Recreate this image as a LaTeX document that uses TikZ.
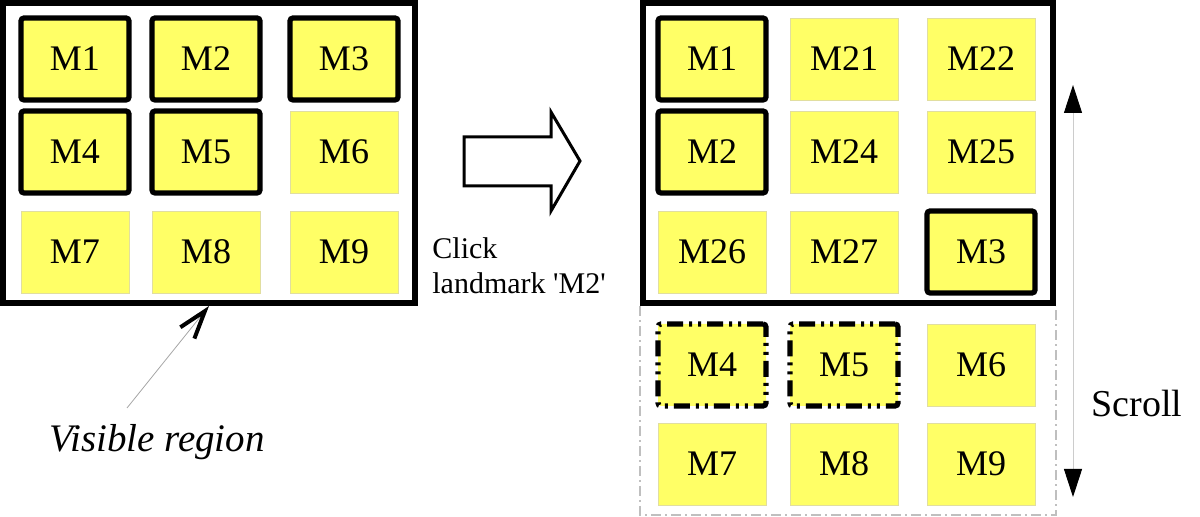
\documentclass[tikz,border=0pt]{standalone}
\usepackage{fontspec}
\setmainfont{Liberation Serif}
\usetikzlibrary{arrows.meta}

\definecolor{lmfill}{RGB}{255,255,102}
\definecolor{lmedge}{RGB}{225,222,160}

\tikzset{
  landmark/.style={draw=lmedge, line width=0.4pt, fill=lmfill,
    minimum width=54pt, minimum height=41pt, inner sep=0pt,
    font=\fontsize{18}{18}\selectfont},
  picked/.style={landmark, draw=black, line width=2.6pt, rounded corners=1.5pt},
  ghost/.style={picked, dash pattern=on 8pt off 3pt on 1.5pt off 3pt on 1.5pt off 3pt},
  viewframe/.style={draw=black, line width=3pt, minimum height=150pt, inner sep=0pt},
  listedge/.style={draw=black!25, line width=0.6pt, dash pattern=on 5pt off 2pt on 1pt off 2pt}
}

\begin{document}
\begin{tikzpicture}[x=0.5pt, y=-0.5pt]
    \useasboundingbox (0,0) rectangle (1200,517);

    % 1. The two visible regions
    \node[viewframe, minimum width=206pt] (lview) at (209,153) {};
    \node[viewframe, minimum width=205pt] (rview) at (848,153) {};
    % rest of the list, out of view
    \draw[listedge] (rview.south west) -- ++(0,209) -| (rview.south east);

    % 2. Landmarks before the click
    \foreach \txt/\x/\y/\sty in {M1/75/59/picked, M2/206/59/picked, M3/344/59/picked,
        M4/75/152/picked, M5/206/152/picked, M6/344/152/landmark,
        M7/75/252/landmark, M8/206/252/landmark, M9/344/252/landmark}
        \node[\sty] (l\txt) at (\x,\y) {\txt};

    % 3. Landmarks after the click
    \foreach \txt/\x/\y/\sty in {M1/712/59/picked, M21/844/59/landmark, M22/981/59/landmark,
        M2/712/152/picked, M24/844/152/landmark, M25/981/152/landmark,
        M26/712/252/landmark, M27/844/252/landmark, M3/981/252/picked,
        M4/712/365/ghost, M5/844/365/ghost, M6/981/365/landmark,
        M7/712/464/landmark, M8/844/464/landmark, M9/981/464/landmark}
        \node[\sty] (r\txt) at (\x,\y) {\txt};

    % 4. Block arrow and its note
    \draw[line width=1.5pt, line join=miter]
        (464,137) -- (551,137) -- (551,112) -- (580,161)
        -- (551,211) -- (551,186) -- (464,186) -- cycle;
    \node[anchor=north west, inner sep=0pt, align=left,
          font=\fontsize{15}{17.5}\selectfont] (clicknote) at (432,237)
        {Click\\landmark \textquotesingle M2\textquotesingle};

    % 5. Label for the visible region
    \node[inner sep=0pt, font=\fontsize{19.5}{20}\selectfont\itshape] (vislabel) at (157,442) {Visible region};
    \coordinate (visfoot) at (127,408);
    \draw[gray!70, line width=0.4pt,
          -{Straight Barb[length=14pt, width=9pt, line width=2pt, black]}]
        (visfoot) -- (lview.south);

    % 6. Scroll
    \coordinate (scrolltop) at (1073,85);
    \coordinate (scrollbot) at (1073,497);
    \draw[black!20, line width=0.5pt,
          {Triangle[length=14pt, width=9pt, black]}-{Triangle[length=14pt, width=9pt, black]}]
        (scrolltop) -- (scrollbot);
    \node[inner sep=0pt, font=\fontsize{19}{19}\selectfont] (scrolllabel) at (1137,404) {Scroll};
\end{tikzpicture}
\end{document}
